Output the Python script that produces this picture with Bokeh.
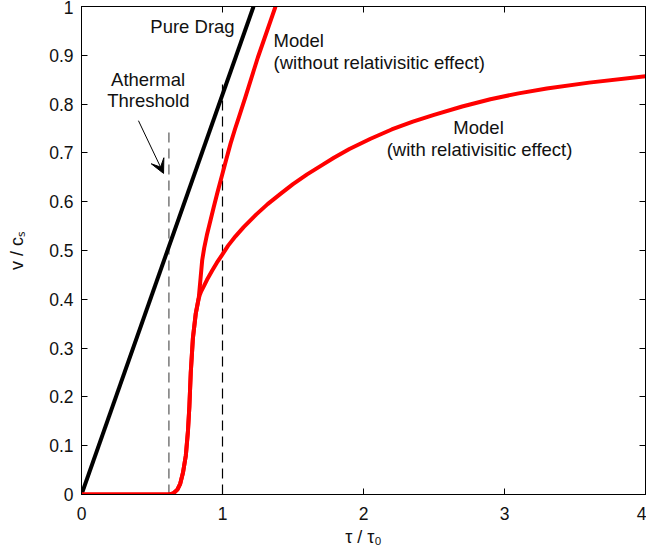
from bokeh.plotting import figure
from bokeh.models import (Label, Arrow, VeeHead, LinearAxis, FixedTicker,
                          CustomJSTickFormatter, CustomLabelingPolicy, Range1d)
from bokeh.embed import file_html
from bokeh.resources import INLINE

# ---- data ----
drag_tau = [0.0, 1.22]
drag_v = [0.0, 1.0]

norel_tau = [0.0, 0.62, 0.65, 0.68, 0.70, 0.72, 0.74, 0.755, 0.765, 0.775, 0.79,
             0.81, 0.832, 0.845, 0.856, 0.87, 0.891, 0.915, 0.938, 0.965, 0.993,
             1.025, 1.057, 1.09, 1.116, 1.163, 1.25, 1.376]
norel_v = [0.0, 0.0, 0.002, 0.01, 0.022, 0.045, 0.08, 0.13, 0.18, 0.25, 0.32,
           0.37, 0.404, 0.445, 0.48, 0.505, 0.534, 0.562, 0.589, 0.62, 0.65,
           0.685, 0.719, 0.75, 0.773, 0.815, 0.895, 1.0]

rel_tau = [0.0, 0.62, 0.65, 0.68, 0.70, 0.72, 0.74, 0.755, 0.765, 0.775, 0.79,
           0.81, 0.83, 0.84, 0.85, 0.868, 0.89, 0.927, 0.96, 0.995, 1.04, 1.092,
           1.15, 1.24, 1.32, 1.411, 1.50, 1.60, 1.70, 1.79, 1.90, 2.05, 2.2, 2.35,
           2.5, 2.7, 2.9, 3.1, 3.3, 3.6, 4.0]
rel_v = [0.0, 0.0, 0.002, 0.01, 0.022, 0.045, 0.08, 0.13, 0.18, 0.25, 0.32,
         0.37, 0.40, 0.41, 0.417, 0.427, 0.44, 0.459, 0.475, 0.49, 0.51, 0.529,
         0.548, 0.574, 0.595, 0.616, 0.636, 0.656, 0.674, 0.69, 0.708, 0.729, 0.748, 0.764,
         0.778, 0.795, 0.81, 0.822, 0.832, 0.844, 0.857]

thr_tau = [0.62, 1.0]
thr_top = [0.75, 0.85]

x_ticks = [0, 1, 2, 3, 4]
y_ticks = [0, 0.1, 0.2, 0.3, 0.4, 0.5, 0.6, 0.7, 0.8, 0.9, 1.0]

FONT = "Liberation Sans"

p = figure(width=646, height=559, output_backend="svg", toolbar_location=None,
           x_range=Range1d(0, 4), y_range=Range1d(0, 1),
           min_border_left=81, min_border_right=1, min_border_top=6, min_border_bottom=65)
p.background_fill_color = "white"
p.border_fill_color = "white"
p.outline_line_color = "black"
p.outline_line_width = 1
p.grid.visible = False

fmt = CustomJSTickFormatter(code="return String(parseFloat(tick.toFixed(2)));")
for ax, ticks in ((p.xaxis[0], x_ticks), (p.yaxis[0], y_ticks)):
    ax.ticker = FixedTicker(ticks=ticks)
    ax.formatter = fmt
    ax.major_tick_in = 6
    ax.major_tick_out = 0
    ax.minor_tick_line_color = None
    ax.axis_line_color = "black"
    ax.major_tick_line_color = "black"
    ax.major_label_text_font = FONT
    ax.major_label_text_font_size = "17.5px"
    ax.major_label_text_color = "#111111"
    ax.axis_label_text_font = FONT
    ax.axis_label_text_font_style = "normal"
    ax.axis_label_text_font_size = "18px"
    ax.axis_label_text_color = "#111111"
p.xaxis[0].major_label_standoff = 12
p.yaxis[0].major_label_standoff = 8
p.xaxis[0].axis_label = "τ / τ₀"
p.xaxis[0].axis_label_standoff = 4
p.yaxis[0].axis_label = "v / cₛ"
p.yaxis[0].axis_label_standoff = 19

no_labels = CustomLabelingPolicy(code="for (const i of indices) { indices.unset(i) } return indices")
for side, ticks in (("above", x_ticks), ("right", y_ticks)):
    ax = LinearAxis(ticker=FixedTicker(ticks=ticks), major_tick_in=6, major_tick_out=0,
                    minor_tick_line_color=None, major_label_text_font_size="0px",
                    major_label_standoff=0, axis_line_color="black",
                    major_label_policy=no_labels)
    p.add_layout(ax, side)

# threshold dashed lines
p.line([thr_tau[0], thr_tau[0]], [0, thr_top[0]], line_color="#555555", line_width=1.2,
       line_dash="10 6")
p.line([thr_tau[1], thr_tau[1]], [0, thr_top[1]], line_color="black", line_width=1.2,
       line_dash="10 6")

p.line(drag_tau, drag_v, line_color="black", line_width=4)
p.line(norel_tau, norel_v, line_color="#ff0000", line_width=4, line_join="round")
p.line(rel_tau, rel_v, line_color="#ff0000", line_width=4, line_join="round")

def lab(x, y, t, align="center", size="18.5px", angle=0.0):
    p.add_layout(Label(x=x, y=y, text=t, text_align=align, text_baseline="middle",
                       text_font=FONT, text_font_size=size, text_color="#111111",
                       angle=angle))

lab(0.787, 0.959, "Pure Drag")
lab(0.472, 0.850, "Athermal")
lab(0.474, 0.807, "Threshold")
lab(1.362, 0.930, "Model", align="left")
lab(1.362, 0.885, "(without relativisitic effect)", align="left")
lab(2.816, 0.752, "Model")
lab(2.823, 0.707, "(with relativisitic effect)")

p.add_layout(Arrow(x_start=0.404, y_start=0.766, x_end=0.582, y_end=0.658,
                   line_color="black", line_width=1,
                   end=VeeHead(size=14, fill_color="black", line_color="black")))

open("out.html", "w").write(file_html(p, INLINE))
